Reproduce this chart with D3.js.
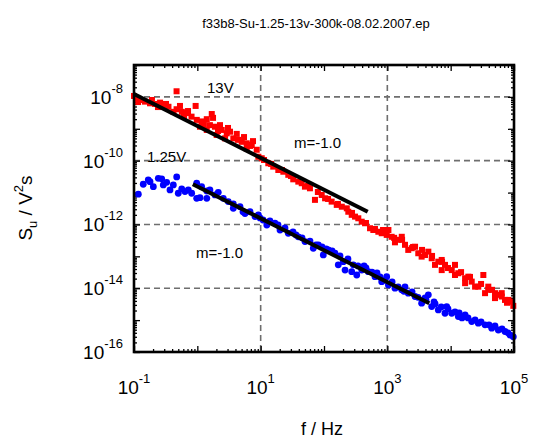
<!DOCTYPE html>
<html>
<head>
<meta charset="utf-8">
<script src="https://cdn.jsdelivr.net/npm/d3@7/dist/d3.min.js"></script>
<style>
  html, body { margin: 0; padding: 0; background: #fff; }
  svg { display: block; font-family: "Liberation Sans", Arial, sans-serif; }
</style>
</head>
<body>
<svg id="chart" width="536" height="443"></svg>
<script>
// Spectral noise density, 13 V bias (red squares)
const red13F = [0.11, 0.124, 0.149, 0.179, 0.215, 0.258, 0.29, 0.35, 0.42, 0.47, 0.47, 0.57, 0.68, 0.81, 0.94, 0.98,
  1.10, 1.17, 1.41, 1.41, 1.58, 1.69, 1.90, 2.02, 2.28, 2.43, 2.74, 2.91, 3.28, 3.70, 4.19, 5.02, 6.03, 6.03, 7.23, 8.66,
  9.2, 10.4, 13.2, 15.8, 19.0, 22.8, 27.3, 32.7, 39.3, 44.5, 50, 60, 72, 92, 104, 132, 159, 191, 229, 242, 274, 309, 348,
  394, 445, 533, 601, 721, 815, 978, 1040, 1170, 1320, 1490, 1690, 1900, 2140, 2430, 2740, 3080, 3480, 3930, 4440,
  5020, 5660, 6380, 7220, 7220, 8140, 10400, 11700, 11700, 13200, 16900, 16900, 19000, 21500, 24300, 27300, 32800,
  34900, 39300, 39300, 50100, 50100, 64000, 64000, 72100, 81300, 92000, 97500,
  855, 1280, 1710, 2550, 3530, 5080, 7310, 9080, 14600, 20200, 30200, 45000, 56000, 77600,
  11.3, 14.6, 21.7, 30.1, 56, 80, 116, 166, 277, 460, 638,
  0.1, 0.116, 0.192, 0.239, 0.32, 0.532, 0.616, 0.713, 1.27, 1.77, 2.12, 3.05, 4.39, 5.46, 6.79, 7.57];
const red13S = [9.0e-9, 8.0e-9, 7.1e-9, 6.3e-9, 6.0e-9, 6.6e-9, 5.6e-9, 4.9e-9, 3.4e-9, 1.5e-8, 4.1e-9, 3.4e-9, 3.1e-9, 2.4e-9, 5.2e-9, 1.9e-9,
  1.16e-9, 1.7e-9, 2.0e-9, 9.2e-10, 1.3e-9, 2.9e-9, 1.16e-9, 6.4e-10, 1.3e-9, 9.2e-10, 5.0e-10, 7.2e-10, 8.1e-10, 5.0e-10, 6.9e-10, 3.9e-10, 3.5e-10, 2.4e-10, 3.1e-10, 2.2e-10,
  1.33e-10, 1.19e-10, 8.3e-11, 6.5e-11, 5.1e-11, 4.5e-11, 3.6e-11, 2.6e-11, 2.2e-11, 1.96e-11, 1.53e-11, 1.36e-11, 5.9e-12, 8.4e-12, 6.6e-12, 5.2e-12, 4.1e-12, 3.6e-12, 3.2e-12, 2.5e-12, 2.0e-12, 1.76e-12, 1.56e-12,
  1.22e-12, 1.09e-12, 7.6e-13, 6.7e-13, 5.9e-13, 5.3e-13, 4.7e-13, 6.7e-13, 4.1e-13, 2.75e-13, 3.3e-13, 4.1e-13, 2.3e-13, 1.59e-13, 1.8e-13, 2.0e-13, 1.25e-13, 9.8e-14, 1.1e-13, 1.4e-13,
  8.7e-14, 5.4e-14, 6.8e-14, 3.7e-14, 7.7e-14, 5.4e-14, 3.7e-14, 2.6e-14, 5.4e-14, 2.95e-14, 2.06e-14, 1.44e-14, 2.3e-14, 1.61e-14, 1.12e-14, 1.12e-14, 2.6e-14,
  7.0e-15, 8.9e-15, 1.12e-14, 7.0e-15, 4.9e-15, 5.5e-15, 7.0e-15, 4.3e-15, 4.3e-15, 3.8e-15, 2.8e-15,
  6.7e-13, 3.8e-13, 3.3e-13, 1.97e-13, 1.59e-13, 1.03e-13, 6.7e-14, 4.3e-14, 3.2e-14, 2.26e-14, 1.36e-14, 8.9e-15, 6.2e-15, 3.5e-15,
  1.05e-10, 7.9e-11, 5.1e-11, 3.3e-11, 1.61e-11, 1.04e-11, 6.3e-12, 4.4e-12, 2.3e-12, 1.11e-12, 7.2e-13,
  1.07e-8, 6.9e-9, 8.0e-9, 4.8e-9, 6.0e-9, 5.2e-9, 2.5e-9, 3.6e-9, 1.41e-9, 2.2e-9, 8.5e-10, 1.06e-9, 4.5e-10, 5.5e-10, 2.9e-10, 4.1e-10];

// Spectral noise density, 1.25 V bias (blue circles)
const blue125F = [0.117, 0.140, 0.168, 0.179, 0.202, 0.242, 0.274, 0.290, 0.328, 0.370, 0.418, 0.472, 0.50, 0.567, 0.638, 0.720,
  0.814, 0.977, 0.977, 1.10, 1.17, 1.41, 1.41, 1.58, 1.90, 2.14, 2.57, 3.08, 3.70, 3.70, 4.72, 5.26, 5.66, 6.79, 8.15, 9.2,
  10.9, 12.5, 14.0, 16.8, 20.2, 24.2, 27.3, 32.4, 39.3, 45.0, 50.1, 60.1, 67.8, 81.3, 93, 97.5, 117, 134, 149, 168, 179,
  202, 215, 239, 274, 290, 329, 394, 429, 501, 573, 639, 767, 815, 977, 1040, 1190, 1320, 1690, 1900, 2140, 2460, 2740,
  3480, 3940, 4440, 5020, 5680, 6380, 7100, 8140, 8660, 10400, 11700, 13200, 15100, 16900, 21500, 24300, 27300, 34900,
  44500, 50100, 56600, 72100, 86500, 97500,
  887, 1480, 1830, 3050, 4080, 5460, 9080, 13600, 18800, 30200, 40300, 64700, 80500,
  9.75, 18.8, 36.1, 74.8, 108, 344, 460, 687];
const blue125S = [8.9e-12, 1.82e-11, 2.5e-11, 2.2e-11, 1.53e-11, 2.8e-11, 2.7e-11, 1.73e-11, 2.1e-11, 1.21e-11, 1.73e-11, 3.1e-11, 9.5e-12, 1.30e-11, 1.07e-11, 1.21e-11,
  9.5e-12, 1.96e-11, 6.6e-12, 6.9e-12, 1.53e-11, 6.6e-12, 1.12e-11, 1.21e-11, 8.4e-12, 1.02e-11, 6.6e-12, 5.2e-12, 3.2e-12, 4.4e-12, 3.6e-12, 2.5e-12, 2.2e-12, 2.5e-12, 1.76e-12, 2.0e-12,
  1.38e-12, 9.6e-13, 1.29e-12, 1.09e-12, 6.7e-13, 7.8e-13, 5.3e-13, 5.8e-13, 4.1e-13, 3.8e-13, 2.9e-13, 3.0e-13, 1.79e-13, 2.3e-13, 1.97e-13, 1.11e-13, 1.59e-13, 1.48e-13, 1.25e-13, 5.4e-14, 1.03e-13,
  6.8e-14, 3.7e-14, 8.3e-14, 3.3e-14, 5.4e-14, 2.6e-14, 3.7e-14, 5.0e-14, 3.3e-14, 3.2e-14, 2.3e-14, 2.26e-14, 1.61e-14, 2.3e-14, 1.27e-14, 1.57e-14, 1.0e-14, 8.9e-15, 1.10e-14, 7.0e-15, 7.7e-15, 5.5e-15,
  3.4e-15, 5.0e-15, 6.2e-15, 2.65e-15, 3.2e-15, 2.09e-15, 2.6e-15, 1.64e-15, 2.65e-15, 1.64e-15, 1.81e-15, 1.29e-15, 1.17e-15, 1.46e-15, 9.0e-16, 1.01e-15, 8.0e-16, 7.1e-16,
  5.6e-16, 6.6e-16, 4.9e-16, 4.4e-16, 3.4e-16, 3.0e-16,
  1.77e-14, 1.10e-14, 8.0e-15, 5.2e-15, 4.3e-15, 3.7e-15, 2.24e-15, 1.68e-15, 1.17e-15, 8.8e-16, 7.1e-16, 5.3e-16, 4.0e-16,
  1.60e-12, 9.6e-13, 4.7e-13, 2.3e-13, 1.71e-13, 5.0e-14, 4.3e-14, 3.0e-14];

// Power-law fits S = A * f^m
const fitSlope = -1.0;
const fitRedA = 1.23e-9, fitRedRange = [0.1, 490];
const fitBlueA = 1.55e-11, fitBlueRange = [0.85, 4600];

// Axis decades
const xDecades = [-1, 0, 1, 2, 3, 4, 5];
const xLabelExps = [-1, 1, 3, 5];
const yDecades = [-16, -15, -14, -13, -12, -11, -10, -9, -8, -7];
const yLabelExps = [-16, -14, -12, -10, -8];

const titleText = "f33b8-Su-1.25-13v-300k-08.02.2007.ep";

const svg = d3.select("#chart");
const L = 134, R = 514, T = 65, B = 352;
const x = d3.scaleLog().domain([0.1, 1e5]).range([L, R]);
const y = d3.scaleLog().domain([1e-16, 1e-7]).range([B, T]);

// minor tick values (2..9 within each decade)
function minors(decs) {
  const out = [];
  decs.slice(0, -1).forEach(e => { for (let k = 2; k <= 9; k++) out.push(k * Math.pow(10, e)); });
  return out;
}
const xMajor = xDecades.map(e => Math.pow(10, e));
const yMajor = yDecades.map(e => Math.pow(10, e));

// dashed grid at labelled decades
const grid = svg.append("g");
grid.selectAll("line.gx").data(xLabelExps.slice(1, -1).map(e => Math.pow(10, e))).join("line")
  .attr("x1", d => x(d)).attr("x2", d => x(d)).attr("y1", T).attr("y2", B)
  .attr("stroke", "#6e6e6e").attr("stroke-width", 1.6).attr("stroke-dasharray", "6,4");
grid.selectAll("line.gy").data(yLabelExps.slice(1).map(e => Math.pow(10, e))).join("line")
  .attr("x1", L).attr("x2", R).attr("y1", d => y(d)).attr("y2", d => y(d))
  .attr("stroke", "#6e6e6e").attr("stroke-width", 1.6).attr("stroke-dasharray", "6,4");

// inward ticks on all four sides (negative size points into the plot)
function styleAxis(g) {
  g.select(".domain").remove();
  g.selectAll(".tick line").attr("stroke", "#000").attr("stroke-width", 1.3);
  g.selectAll(".tick text").remove();
}
const axisDefs = [
  [d3.axisBottom, x, 0, B], [d3.axisTop, x, 0, T],
  [d3.axisLeft, y, L, 0], [d3.axisRight, y, R, 0]
];
axisDefs.forEach(([fn, sc, tx, ty]) => {
  const isX = sc === x;
  const maj = isX ? xMajor : yMajor;
  const mn = minors(isX ? xDecades : yDecades);
  svg.append("g").attr("transform", `translate(${tx},${ty})`)
    .call(fn(sc).tickValues(maj).tickSize(-6).tickSizeOuter(0))
    .call(styleAxis);
  svg.append("g").attr("transform", `translate(${tx},${ty})`)
    .call(fn(sc).tickValues(mn).tickSize(-3).tickSizeOuter(0))
    .call(styleAxis);
});

// data markers
svg.append("g").selectAll("rect").data(red13F.map((f, i) => [f, red13S[i]])).join("rect")
  .attr("x", d => x(d[0]) - 3).attr("y", d => y(d[1]) - 3)
  .attr("width", 6).attr("height", 6).attr("fill", "#ff0000");
svg.append("g").selectAll("circle").data(blue125F.map((f, i) => [f, blue125S[i]])).join("circle")
  .attr("cx", d => x(d[0])).attr("cy", d => y(d[1])).attr("r", 3.4).attr("fill", "#0000ff");

// fitted lines
const fitLine = d3.line().x(d => x(d[0])).y(d => y(d[1]));
[[fitRedA, fitRedRange], [fitBlueA, fitBlueRange]].forEach(([A, rg]) => {
  svg.append("path").datum(rg.map(f => [f, A * Math.pow(f, fitSlope)]))
    .attr("d", fitLine).attr("stroke", "#000").attr("stroke-width", 4).attr("fill", "none");
});

// frame
svg.append("rect").attr("x", L).attr("y", T).attr("width", R - L).attr("height", B - T)
  .attr("fill", "none").attr("stroke", "#000").attr("stroke-width", 2.6);

// tick labels with superscript exponents
xLabelExps.forEach(e => {
  const t = svg.append("text").attr("x", x(Math.pow(10, e))).attr("y", 394)
    .attr("text-anchor", "middle").attr("font-size", 19);
  t.append("tspan").text("10");
  t.append("tspan").attr("font-size", 13).attr("dy", -11).text(e);
});
yLabelExps.forEach(e => {
  const t = svg.append("text").attr("x", 123).attr("y", y(Math.pow(10, e)) + 7)
    .attr("text-anchor", "end").attr("font-size", 19);
  t.append("tspan").text("10");
  t.append("tspan").attr("font-size", 13).attr("dy", -11).text(e);
});

// title and axis titles
svg.append("text").attr("x", 316).attr("y", 28).attr("text-anchor", "middle")
  .attr("font-size", 13).text(titleText);
svg.append("text").attr("x", 322).attr("y", 435).attr("text-anchor", "middle")
  .attr("font-size", 18).text("f / Hz");
const yl = svg.append("text").attr("transform", "translate(32,208) rotate(-90)")
  .attr("text-anchor", "middle").attr("font-size", 19);
yl.append("tspan").text("S");
yl.append("tspan").attr("font-size", 13).attr("dy", 5).text("u");
yl.append("tspan").attr("dy", -5).text(" / V");
yl.append("tspan").attr("font-size", 13).attr("dy", -9).text("2");
yl.append("tspan").attr("dy", 9).text("s");

// annotations
const ann = [["13V", 207, 93], ["1.25V", 147, 162], ["m=-1.0", 294, 148], ["m=-1.0", 196, 258]];
ann.forEach(([s, ax, ay]) => {
  svg.append("text").attr("x", ax).attr("y", ay).attr("font-size", 15).text(s);
});
</script>
</body>
</html>
